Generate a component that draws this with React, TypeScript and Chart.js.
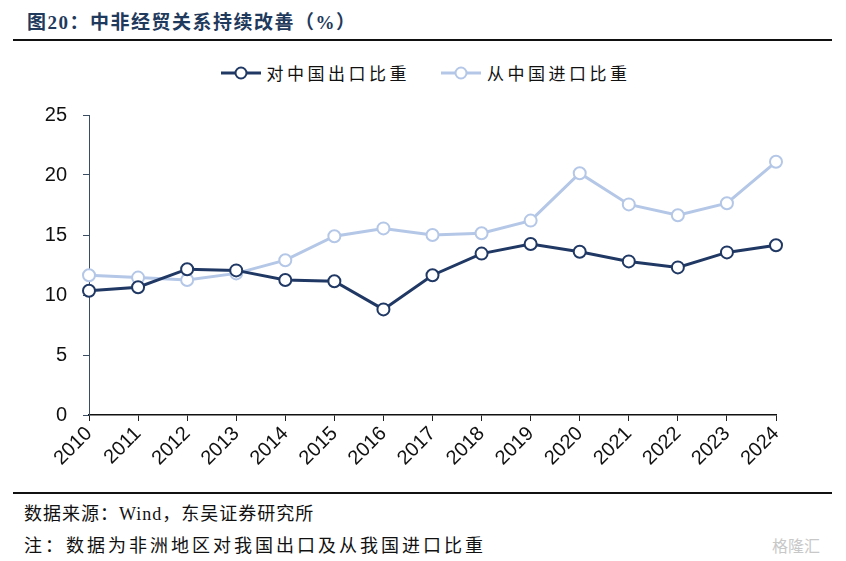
import React, { useEffect, useRef } from "react";
import { Chart, registerables } from "chart.js";

Chart.register(...registerables);

const years = ["2010","2011","2012","2013","2014","2015","2016","2017","2018","2019","2020","2021","2022","2023","2024"];
const exportShare = [10.35, 10.65, 12.15, 12.05, 11.25, 11.15, 8.8, 11.65, 13.45, 14.25, 13.6, 12.8, 12.3, 13.55, 14.15];
const importShare = [11.65, 11.45, 11.25, 11.8, 12.9, 14.9, 15.55, 15.0, 15.15, 16.2, 20.15, 17.55, 16.65, 17.65, 21.1];
const yTicks = [0, 5, 10, 15, 20, 25];

const DARK = "#203864";
const LIGHT = "#b4c7e7";
const CJK = "'Liberation Serif', 'Noto Sans CJK SC', serif";

function LegendItem({ color, label }: { color: string; label: string }) {
  return (
    <div style={{ display: "flex", alignItems: "center" }}>
      <svg width="42" height="16" style={{ marginRight: 5 }}>
        <line x1="1" y1="8" x2="41" y2="8" stroke={color} strokeWidth="3" />
        <circle cx="21" cy="8" r="5.5" fill="#fff" stroke={color} strokeWidth="2" />
      </svg>
      <span style={{ fontFamily: CJK, fontSize: 17, letterSpacing: 3.5, color: "#111" }}>{label}</span>
    </div>
  );
}

export default function App() {
  const ref = useRef<HTMLCanvasElement>(null);
  useEffect(() => {
    document.body.style.margin = "0";
    const ctx = ref.current!;
    const chart = new Chart(ctx, {
      type: "line",
      data: {
        labels: years,
        datasets: [
          {
            label: "对中国出口比重",
            data: exportShare,
            borderColor: DARK,
            backgroundColor: "#fff",
            borderWidth: 3,
            pointRadius: 6,
            pointBorderWidth: 2,
            pointBorderColor: DARK,
            pointBackgroundColor: "#fff",
            tension: 0,
          },
          {
            label: "从中国进口比重",
            data: importShare,
            borderColor: LIGHT,
            backgroundColor: "#fff",
            borderWidth: 3,
            pointRadius: 6,
            pointBorderWidth: 2,
            pointBorderColor: LIGHT,
            pointBackgroundColor: "#fff",
            tension: 0,
          },
        ],
      },
      options: {
        animation: false,
        responsive: false,
        maintainAspectRatio: false,
        layout: { padding: { top: 3, right: 70, bottom: 0, left: 0 } },
        plugins: { legend: { display: false }, tooltip: { enabled: false } },
        scales: {
          x: {
            offset: false,
            grid: { drawOnChartArea: false, drawTicks: true, tickLength: 6, color: "#222" },
            border: { display: true, color: "#111", width: 1.5 },
            ticks: {
              color: "#111",
              font: { family: "'Liberation Sans', Arial", size: 20 },
              minRotation: 45,
              maxRotation: 45,
              padding: 1,
            },
            afterFit: (s: any) => { s.height = 70; },
          },
          y: {
            min: 0,
            max: 25,
            afterBuildTicks: (s: any) => { s.ticks = yTicks.map((v) => ({ value: v })); },
            grid: { drawOnChartArea: false, drawTicks: true, tickLength: 6, color: "#3b4d63" },
            border: { display: true, color: "#3b4d63", width: 1 },
            ticks: {
              color: "#111",
              font: { family: "'Liberation Sans', Arial", size: 20 },
              padding: 16,
            },
            afterFit: (s: any) => { s.width = 89; },
          },
        },
      },
    });
    return () => chart.destroy();
  }, []);

  return (
    <div style={{ position: "relative", width: 846, height: 561, background: "#fff", overflow: "hidden" }}>
      <div style={{ position: "absolute", left: 27, top: 7, fontFamily: CJK, fontWeight: "bold", fontSize: 19, color: "#1f3a5c", letterSpacing: 1.5 }}>
        图20：中非经贸关系持续改善（%）
      </div>
      <div style={{ position: "absolute", left: 13, top: 39, width: 819, height: 2, background: "#111" }} />
      <div style={{ position: "absolute", left: 0, top: 60, width: 846, display: "flex", justifyContent: "center", gap: 30, paddingLeft: 2 }}>
        <LegendItem color={DARK} label="对中国出口比重" />
        <LegendItem color={LIGHT} label="从中国进口比重" />
      </div>
      <canvas ref={ref} width={846} height={398} style={{ position: "absolute", left: 0, top: 87, width: 846, height: 398 }} />
      <div style={{ position: "absolute", left: 13, top: 492, width: 819, height: 2, background: "#111" }} />
      <div style={{ position: "absolute", left: 24, top: 499, fontFamily: CJK, fontSize: 18, letterSpacing: 1, color: "#111" }}>
        数据来源：Wind，东吴证券研究所
      </div>
      <div style={{ position: "absolute", left: 24, top: 531, fontFamily: CJK, fontSize: 18, letterSpacing: 3, color: "#111" }}>
        注：数据为非洲地区对我国出口及从我国进口比重
      </div>
      <div style={{ position: "absolute", left: 772, top: 533, fontFamily: "'Noto Sans CJK SC', sans-serif", fontSize: 16, color: "#c8c8c8" }}>
        格隆汇
      </div>
    </div>
  );
}
